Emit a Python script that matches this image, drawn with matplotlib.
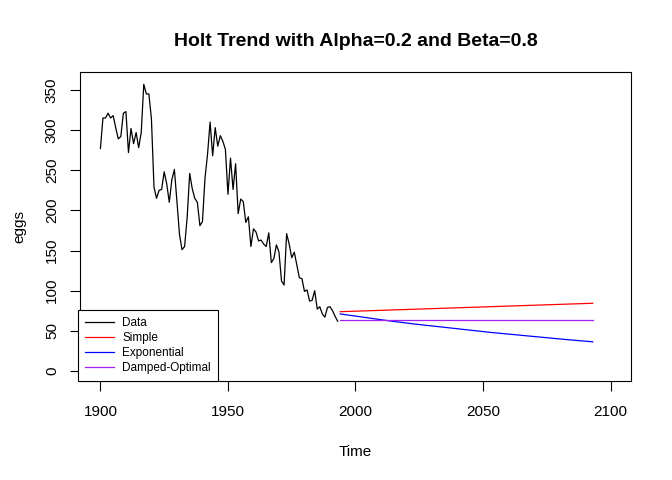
import numpy as np
import matplotlib.pyplot as plt

plt.rcParams['font.family'] = ['Liberation Sans', 'DejaVu Sans']

# price of a dozen eggs, 1900-1993
years = np.arange(1900, 1994)
eggs = [
    277, 315, 315, 321, 315, 318, 303, 289, 292, 321,
    323, 272, 302, 283, 297, 278, 297, 357, 345, 345,
    314, 229, 215, 225, 226, 248, 233, 210, 238, 251,
    211, 170, 151, 155, 191, 246, 227, 215, 210, 181,
    186, 240, 270, 310, 268, 303, 280, 293, 286, 276,
    220, 265, 226, 258, 196, 214, 211, 185, 192, 155,
    177, 173, 162, 163, 158, 155, 172, 135, 140, 157,
    148, 112, 107, 171, 158, 141, 148, 132, 116, 115,
    99, 101, 87, 88, 100, 77, 80, 71, 67, 79,
    80, 75, 68, 62,
]

# forecasts (1994-2093)
simple_years = [1994, 2093]
simple_vals = [73.8, 84.3]
expo_years = [1994, 2003, 2013, 2023, 2033, 2043, 2053, 2063, 2073, 2083, 2093]
expo_vals = [71.0, 67.0, 62.5, 58.5, 55.0, 51.5, 48.0, 45.0, 42.0, 39.0, 36.3]
damped_years = [1994, 2093]
damped_vals = [63.5, 63.5]

fig = plt.figure(figsize=(6.72, 4.8), dpi=100)
ax = fig.add_axes([80 / 672, 99 / 480, 551 / 672, 309 / 480])

ax.plot(years, eggs, color="black", lw=0.9, label="Data")
ax.plot(simple_years, simple_vals, color="red", lw=0.9, label="Simple")
ax.plot(expo_years, expo_vals, color="blue", lw=0.9, label="Exponential")
ax.plot(damped_years, damped_vals, color="#A020F0", lw=0.9, label="Damped-Optimal")

ax.set_xlim(1892, 2108)
ax.set_ylim(-12.5, 372.3)
ax.set_xticks([1900, 1950, 2000, 2050, 2100])
ax.set_yticks(np.arange(0, 351, 50))
ax.tick_params(length=7.2, width=0.8, labelsize=11)
ax.tick_params(axis="x", pad=10)
ax.tick_params(axis="y", pad=8)
for lab in ax.get_yticklabels():
    lab.set_rotation(90)
    lab.set_va("center")
for s in ax.spines.values():
    s.set_linewidth(0.8)

ax.set_title("Holt Trend with Alpha=0.2 and Beta=0.8", fontsize=14,
             fontweight="bold", pad=19)
ax.set_xlabel("Time", fontsize=11, labelpad=19)
ax.set_ylabel("eggs", fontsize=11, labelpad=13)

leg = ax.legend(loc="lower left", bbox_to_anchor=(-0.003, 0), borderaxespad=0,
                fontsize=8.5, fancybox=False, edgecolor="black", framealpha=1,
                handlelength=2.4, labelspacing=0.25, borderpad=0.6,
                handletextpad=0.7)
leg.get_frame().set_linewidth(0.8)

fig.savefig("out.png", dpi=100)
